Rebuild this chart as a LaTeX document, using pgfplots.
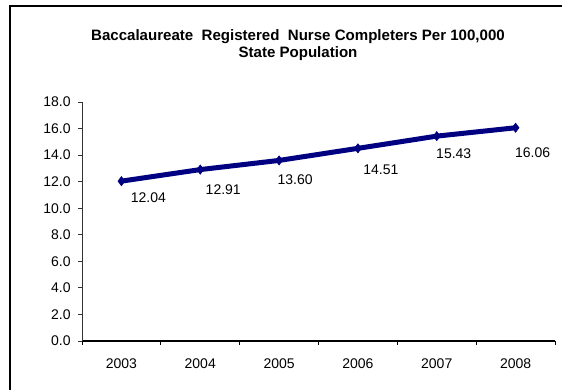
\documentclass[border=0pt]{standalone}
\usepackage{pgfplots}
\pgfplotsset{compat=1.18}
\usepackage{pgfplotstable}
\usepackage{fontspec}
\setmainfont{Liberation Sans}
\definecolor{navyline}{HTML}{000080}
\pgfplotstableread{
x y dx dy
0 12.04 20.25 12.75
1 12.91 17.25 15
2 13.60 12 14.25
3 14.51 17.25 15.75
4 15.43 12.75 13.5
5 16.06 12.75 18.75
}\datatable
\begin{document}
\begin{tikzpicture}
\useasboundingbox (0,0) rectangle (421.5pt,292.5pt);
\draw[line width=1pt] (7.5pt,-1pt) -- (7.5pt,288pt) -- (423pt,288pt);
\node[font=\fontsize{11.3}{12}\selectfont\bfseries] at (223.5pt,265.2pt) {Baccalaureate\ \ Registered\ \ Nurse Completers Per 100,000};
\node[font=\fontsize{11.3}{12}\selectfont\bfseries] at (223.5pt,252.5pt) {State Population};
\begin{axis}[
  at={(61.5pt,36.75pt)}, anchor=south west,
  scale only axis, width=354.75pt, height=179.25pt,
  xmin=-0.5, xmax=5.5, ymin=0, ymax=18,
  axis x line*=bottom, axis y line*=left,
  x axis line style={line width=1.5pt},
  y axis line style={line width=0.6pt, black!80},
  xtick={0,...,5},
  xticklabels={2003,2004,2005,2006,2007,2008},
  minor xtick={-0.5,0.5,1.5,2.5,3.5,4.5,5.5},
  every major x tick/.append style={draw=none},
  every minor x tick/.append style={line width=0.6pt, black},
  minor tick length=3pt,
  ytick={0,2,...,18},
  every major y tick/.append style={line width=0.6pt, black!80},
  major tick length=3pt,
  tick align=outside,
  /pgf/number format/assume math mode=true,
  yticklabel={\pgfmathprintnumber[fixed,fixed zerofill,precision=1]{\tick}},
  tick label style={font=\fontsize{10.5}{12}\selectfont},
  xticklabel style={yshift=-7pt},
  yticklabel style={xshift=-2pt},
  clip=false,
  nodes near coords={\pgfmathprintnumber[fixed,fixed zerofill,precision=2,assume math mode=true]{\pgfplotspointmeta}},
  visualization depends on={\thisrow{dx} \as \dx},
  visualization depends on={\thisrow{dy} \as \dy},
  every node near coord/.append style={font=\fontsize{10.5}{12}\selectfont, anchor=center, xshift=\dx, yshift=-\dy, black},
]
\addplot[color=navyline, line width=3.75pt, mark=diamond*, mark size=3.4pt, mark options={solid, line width=0.5pt}] table[x=x,y=y] {\datatable};
\end{axis}
\end{tikzpicture}
\end{document}
